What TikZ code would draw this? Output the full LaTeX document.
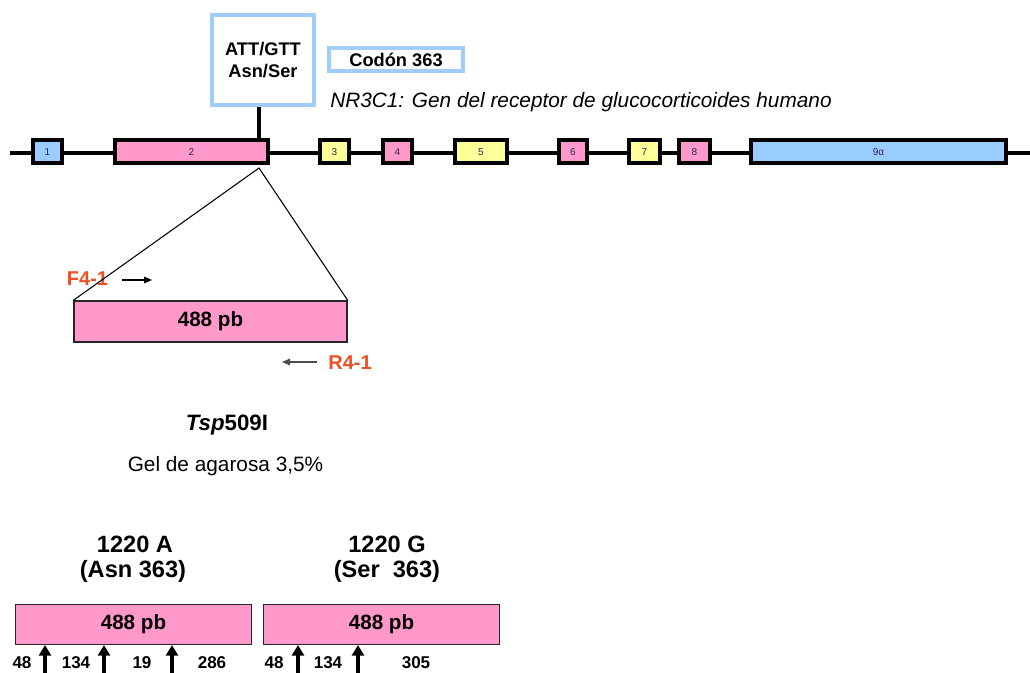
\documentclass[tikz,border=0pt]{standalone}
\usepackage{fontspec}
\setmainfont{Liberation Sans}
\usetikzlibrary{arrows.meta,calc}
\definecolor{exblue}{RGB}{153,204,255}
\definecolor{expink}{RGB}{255,153,204}
\definecolor{exyellow}{RGB}{255,255,153}
\definecolor{boxblue}{RGB}{160,205,250}
\definecolor{primer}{RGB}{235,80,35}
\definecolor{labtext}{RGB}{40,40,80}
\newcommand{\exonnode}[5]{\node[exon, fill=#4, minimum width={(#3-#2-4)*0.75pt}] (#1) at ({(#2+#3)/2},152) {#5};}
\tikzset{
  exon/.style={draw=black, line width=3pt, minimum height=17.25pt, inner sep=0pt,
    font=\fontsize{7.5}{8}\selectfont, text=labtext},
  bluebox/.style={draw=boxblue, line width=3pt, inner sep=0pt, fill=white,
    font=\bfseries\fontsize{13.7}{16}\selectfont, align=center},
  ampbox/.style={draw=black!85, line width=1pt, fill=expink, inner sep=0pt,
    font=\bfseries\fontsize{15.5}{18}\selectfont},
  primertext/.style={anchor=base, inner sep=0pt, text=primer, font=\bfseries\fontsize{15}{18}\selectfont},
  primerarrow/.style={line width=0.8pt, -{Triangle[length=6pt,width=5pt]}},
  headtext/.style={anchor=base, inner sep=0pt, font=\bfseries\fontsize{17.7}{20}\selectfont},
  sizetext/.style={anchor=base, inner sep=0pt, font=\bfseries\fontsize{12.8}{15}\selectfont},
  cutarrow/.style={line width=2.6pt, -{Triangle[length=8pt,width=9pt]}},
  genestem/.style={line width=2.3pt},
  geneline/.style={line width=3.5pt},
  zoomline/.style={line width=0.8pt}
}
\begin{document}
\begin{tikzpicture}[x=0.75pt,y=-0.75pt]
\useasboundingbox[fill=white] (0,0) rectangle (1030,673);

% gene line and exons
\coordinate (gl) at (10,153);
\coordinate (gr) at (1030,153);
\draw[geneline] (gl) -- (gr);
\exonnode{ex1}{31}{64}{exblue}{1}
\exonnode{ex2}{113}{270}{expink}{2}
\exonnode{ex3}{318}{351}{exyellow}{3}
\exonnode{ex4}{381}{414}{expink}{4}
\exonnode{ex5}{453}{509}{exyellow}{5}
\exonnode{ex6}{557}{589}{expink}{6}
\exonnode{ex7}{627}{662}{exyellow}{7}
\exonnode{ex8}{677}{712}{expink}{8}
\exonnode{ex9}{749}{1008}{exblue}{9α}

% top boxes
\node[bluebox, minimum width=76.5pt, minimum height=67.5pt] (topbox) at (263,60) {ATT/GTT\\Asn/Ser};
\node[bluebox, minimum width=100.5pt, minimum height=17.25pt] (codon) at (396,59.5) {Codón 363};
\node[anchor=base west, inner sep=0pt, font=\itshape\fontsize{15.6}{18}\selectfont] (gene) at (330,108)
  {NR3C1: Gen del receptor de glucocorticoides humano};

\coordinate (apex) at (259,168);
\draw[genestem] (apex |- topbox.south) -- (apex |- ex2.north);

% amplicon
\node[ampbox, minimum width=204.75pt, minimum height=30.75pt] (amp) at (210.5,321.5) {488 pb};
\node[primertext] (f41) at (87.5,286) {F4-1};
\node[primertext] (r41) at (350,369) {R4-1};
\draw[zoomline] (amp.north west) -- (apex) -- (amp.north east);
\coordinate (fa1) at (122,280);
\coordinate (fa2) at (152,280);
\draw[primerarrow] (fa1) -- (fa2);
\coordinate (ra1) at (317,362);
\coordinate (ra2) at (282,362);
\draw[primerarrow, draw=black!70] (ra1) -- (ra2);

% enzyme and gel
\node[anchor=base, inner sep=0pt, font=\bfseries\fontsize{16.7}{20}\selectfont] (enz) at (227,430) {\textit{Tsp}509I};
\node[anchor=base, inner sep=0pt, font=\fontsize{15.6}{18}\selectfont] (gel) at (225.5,471) {Gel de agarosa 3,5\%};

% alleles
\node[headtext] (hA1) at (135,552) {1220 A};
\node[headtext] (hA2) at (133,577) {(Asn 363)};
\node[headtext] (hG1) at (387,552) {1220 G};
\node[headtext] (hG2) at (387,577) {(Ser\ \ 363)};

\node[ampbox, minimum width=176.7pt, minimum height=29.8pt] (lbox) at (133.5,624.5) {488 pb};
\node[ampbox, minimum width=176.7pt, minimum height=29.8pt] (rbox) at (381.5,624.5) {488 pb};

% fragment sizes
\node[sizetext] (s1) at (22,668) {48};
\node[sizetext] (s2) at (76,668) {134};
\node[sizetext] (s3) at (142,668) {19};
\node[sizetext] (s4) at (212,668) {286};
\node[sizetext] (s5) at (274,668) {48};
\node[sizetext] (s6) at (328,668) {134};
\node[sizetext] (s7) at (416,668) {305};

% cut sites
\coordinate (c1) at (45,673);
\coordinate (c2) at (104,673);
\coordinate (c3) at (172,673);
\coordinate (c4) at (298,673);
\coordinate (c5) at (358,673);
\draw[cutarrow] (c1) -- (c1 |- lbox.south);
\draw[cutarrow] (c2) -- (c2 |- lbox.south);
\draw[cutarrow] (c3) -- (c3 |- lbox.south);
\draw[cutarrow] (c4) -- (c4 |- rbox.south);
\draw[cutarrow] (c5) -- (c5 |- rbox.south);
\end{tikzpicture}
\end{document}
